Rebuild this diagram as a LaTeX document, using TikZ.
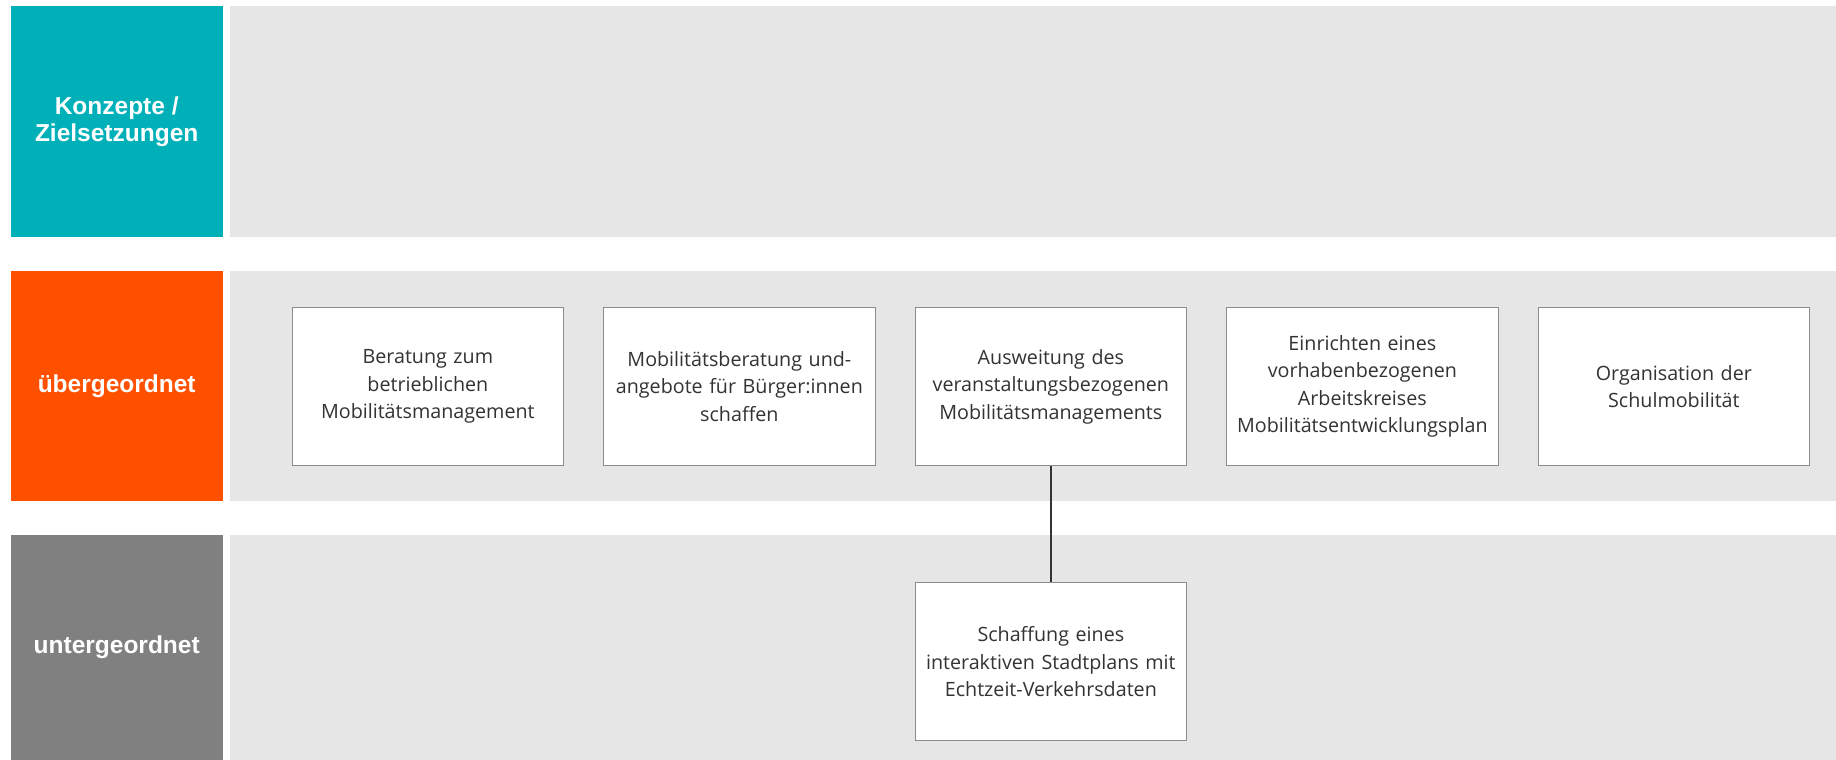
\documentclass[tikz,border=0pt]{standalone}
\usepackage{fontspec}
\setmainfont{Open Sans}
\newfontfamily\labelfont{Liberation Sans}
\definecolor{tealc}{HTML}{00B0B9}
\definecolor{orangec}{HTML}{FF5000}
\definecolor{greyc}{HTML}{808080}
\definecolor{bandc}{HTML}{E6E6E6}
\definecolor{borderc}{HTML}{8C8C8C}
\definecolor{textc}{HTML}{333333}
\tikzset{
  lab/.style={anchor=north west, minimum width=212pt, inner sep=0pt, align=center, text=white,
    font=\labelfont\bfseries\fontsize{24.5}{27}\selectfont},
  band/.style={fill=bandc},
  mbox/.style={draw=borderc, line width=1.2pt, fill=white, anchor=north west, minimum width=271.5pt,
    minimum height=158pt, inner sep=0pt, align=center, text=textc, text width=266pt,
    font=\fontsize{19.7}{27.5}\selectfont},
  conn/.style={draw=textc, line width=1.6pt}
}
\begin{document}
\begin{tikzpicture}[x=1pt,y=-1pt]
\useasboundingbox (0,0) rectangle (1836,760);
% bands
\fill[band] (229.5,6) rectangle (1836,236.5);
\fill[band] (229.5,270.5) rectangle (1836,501);
\fill[band] (229.5,535) rectangle (1836,760);
% labels
\node[lab, fill=tealc, minimum height=230.5pt] (l1) at (10.5,6) {Konzepte /\\Zielsetzungen};
\node[lab, fill=orangec, minimum height=230.5pt] (l2) at (10.5,270.5) {übergeordnet};
\node[lab, fill=greyc, minimum height=225pt] (l3) at (10.5,535) {untergeordnet};
% boxes
\node[mbox] (b1) at (291.5,307) {Beratung zum\\betrieblichen\\Mobilitätsmanagement};
\node[mbox] (b2) at (603,307) {Mobilitätsberatung und-\\angebote für Bürger:innen\\schaffen};
\node[mbox] (b3) at (914.5,307) {Ausweitung des\\veranstaltungsbezogenen\\Mobilitätsmanagements};
\node[mbox] (b4) at (1226,307) {Einrichten eines\\vorhabenbezogenen\\Arbeitskreises\\Mobilitätsentwicklungsplan};
\node[mbox] (b5) at (1537.5,307) {Organisation der\\Schulmobilität};
\node[mbox] (b6) at (914.5,582) {Schaffung eines\\interaktiven Stadtplans mit\\Echtzeit-Verkehrsdaten};
% connector
\draw[conn] (b3.south) -- (b6.north);
\end{tikzpicture}
\end{document}
